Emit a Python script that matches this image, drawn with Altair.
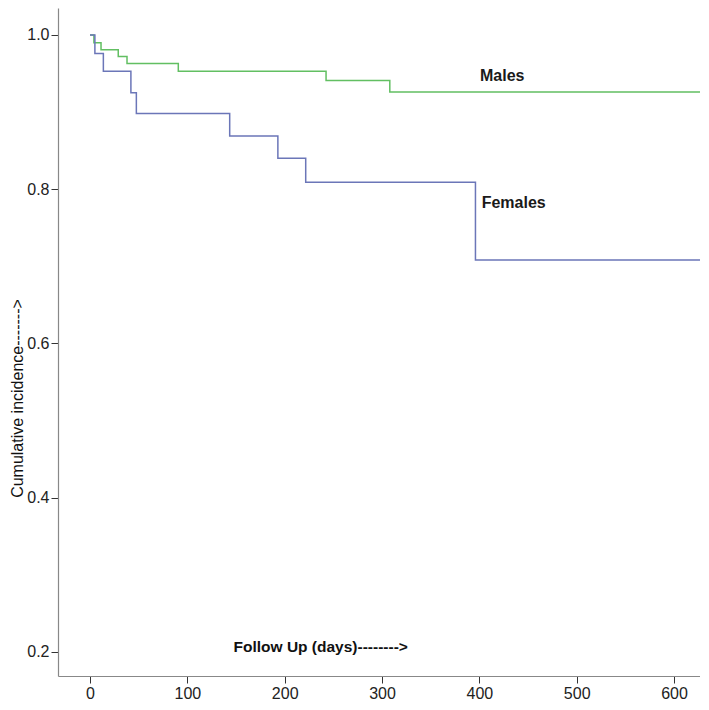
import altair as alt
import pandas as pd

# Step curves (days, cumulative value)
males_days = [0, 4, 11.3, 29, 38, 90.7, 242.5, 308, 626.7]
males_vals = [1.0, 0.990, 0.981, 0.972, 0.963, 0.953, 0.941, 0.926, 0.926]

females_days = [0, 5, 13.7, 42, 47.6, 143.5, 193, 221.6, 396, 626.7]
females_vals = [1.0, 0.976, 0.953, 0.925, 0.898, 0.869, 0.840, 0.809, 0.708, 0.708]

label_text = ["Males", "Females"]
label_days = [400.7, 402.4]
label_vals = [0.947, 0.782]

x_ticks = [0, 100, 200, 300, 400, 500, 600]
y_ticks = [0.2, 0.4, 0.6, 0.8, 1.0]

rows = []
for d, v in zip(males_days, males_vals):
    rows.append({"days": d, "value": v, "group": "Males"})
for d, v in zip(females_days, females_vals):
    rows.append({"days": d, "value": v, "group": "Females"})
df = pd.DataFrame(rows)
labels = pd.DataFrame({"text": label_text, "days": label_days, "value": label_vals})

xscale = alt.Scale(domain=[-32.9, 626.7], nice=False, zero=False)
yscale = alt.Scale(domain=[0.1685, 1.035], nice=False, zero=False)

lines = alt.Chart(df).mark_line(interpolate="step-after", strokeWidth=1.5).encode(
    x=alt.X("days:Q", scale=xscale,
            axis=alt.Axis(values=x_ticks, title="Follow Up (days)-------->",
                          titleX=175, titleY=-30, titleAlign="left",
                          titleBaseline="middle", titleFont="Liberation Sans",
                          titleFontWeight="bold", titleFontSize=15.5,
                          titleColor="#111", labelFlush=False)),
    y=alt.Y("value:Q", scale=yscale,
            axis=alt.Axis(values=y_ticks, format=".1f", title="Cumulative incidence------->",
                          titleX=-41, titleY=390, titleAngle=270, titleAlign="center",
                          titleBaseline="middle", titleFont="Liberation Sans",
                          titleFontWeight="normal", titleFontSize=16,
                          titleColor="#111")),
    color=alt.Color("group:N",
                    scale=alt.Scale(domain=["Males", "Females"], range=["#62bf62", "#6b76b8"]),
                    legend=None),
    detail="group:N",
)

text = alt.Chart(labels).mark_text(align="left", baseline="middle", font="Liberation Sans",
                                   fontWeight="bold", fontSize=16, color="#1a1a1a").encode(
    x=alt.X("days:Q", scale=xscale),
    y=alt.Y("value:Q", scale=yscale),
    text="text:N",
)

chart = (lines + text).properties(
    width=642, height=668, autosize="none",
    padding={"left": 50, "top": 0, "right": 0, "bottom": 24},
).configure_view(stroke=None).configure_axis(
    grid=False, domainColor="#888", domainWidth=1.2, tickColor="#333", tickSize=7,
    labelPadding=2, labelFont="Liberation Sans", labelFontSize=16, labelColor="#222",
)

chart.save("out.html", embed_options={"renderer": "svg", "actions": False})
